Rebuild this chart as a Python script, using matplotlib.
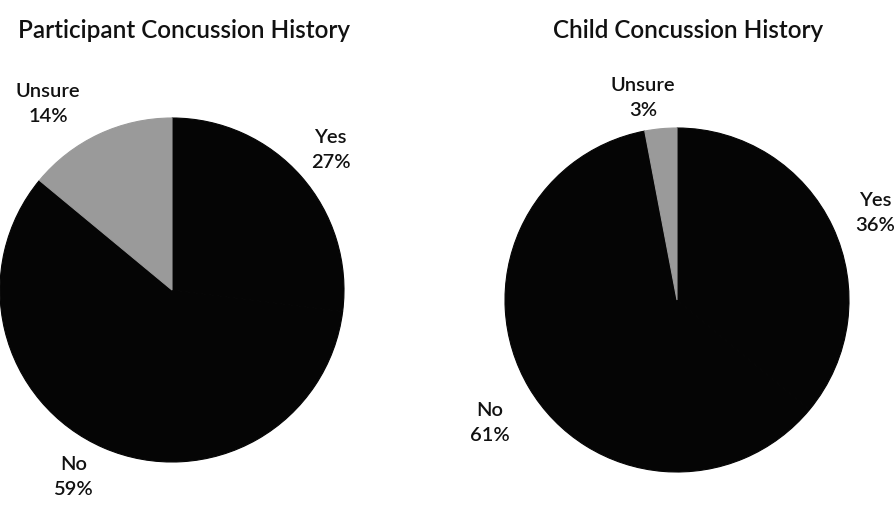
import matplotlib.pyplot as plt
import numpy as np

plt.rcParams['font.family'] = ['Lato', 'DejaVu Sans']

# --- data ---
categories = ['Yes', 'No', 'Unsure']
participant_pct = [27, 59, 14]
child_pct = [36, 61, 3]
titles = ['Participant Concussion History', 'Child Concussion History']

colors = ['#050505', '#050505', '#9a9a9a']

fig = plt.figure(figsize=(8.95, 5.14), dpi=100)
W, H = 895, 514

# pie axes boxes in pixel coords (left, top, size)
boxes = [(0, 118, 344), (505, 128, 344)]
# label placement: angle offset from slice middle (deg), distance from centre (radii)
label_off = [[0, -4.4, 8.4], [-1.5, 2.7, 4.1]]
label_dist = [[1.23, 1.23, 1.30], [1.26, 1.30, 1.19]]
title_x = [184, 688]

for i, vals in enumerate([participant_pct, child_pct]):
    x0, top, size = boxes[i]
    ax = fig.add_axes([x0 / W, (H - top - size) / H, size / W, size / H])
    wedges, _ = ax.pie(vals, colors=colors, startangle=90, counterclock=False,
                       radius=1.0, wedgeprops=dict(linewidth=0.8))
    ax.set_xlim(-1, 1)
    ax.set_ylim(-1, 1)
    ax.set_aspect('equal')
    ax.axis('off')
    for j, w in enumerate(wedges):
        w.set_edgecolor(colors[j])  # hide the seams between the black slices
        mid = np.deg2rad((w.theta1 + w.theta2) / 2 + label_off[i][j])
        d = label_dist[i][j]
        ax.text(d * np.cos(mid), d * np.sin(mid), f'{categories[j]}\n{vals[j]}%',
                ha='center', va='center', fontsize=14.5, linespacing=1.6,
                fontweight='semibold', color='#111111', clip_on=False)
    fig.text(title_x[i] / W, 1 - 30 / H, titles[i], ha='center', va='center',
             fontsize=17.5, fontweight='semibold', color='#111111')

fig.savefig('out.png', dpi=100)
